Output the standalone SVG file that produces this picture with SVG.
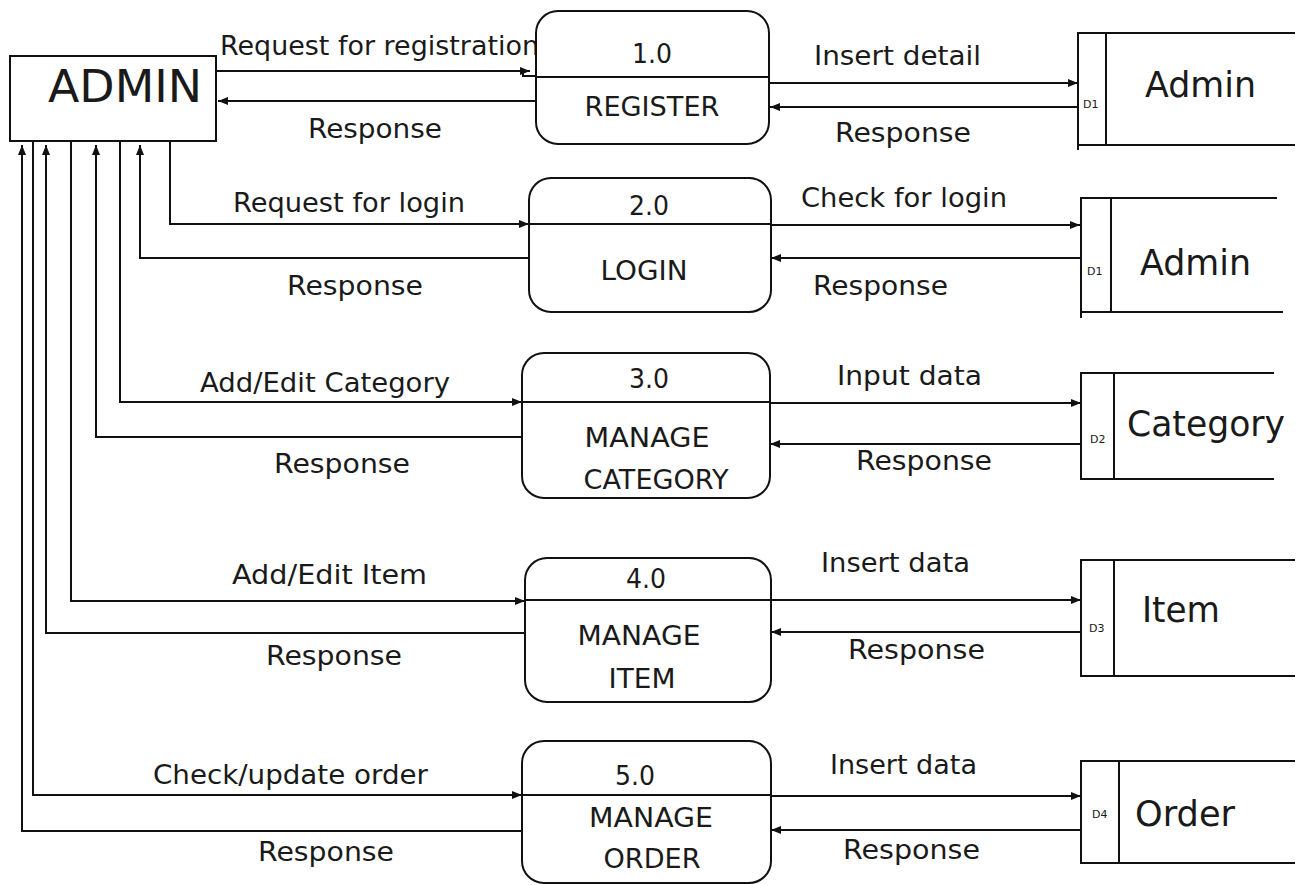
<svg xmlns="http://www.w3.org/2000/svg" width="1305" height="885" viewBox="0 0 1305 885">
<style>
.ln{fill:none;stroke:#111;stroke-width:2}
.box{fill:#fff;stroke:#111;stroke-width:2}
.t{font-family:"DejaVu Sans","Liberation Sans",sans-serif;font-size:26px;fill:#1a1a1a}
.pm{font-family:"DejaVu Sans","Liberation Sans",sans-serif;font-size:26px;fill:#1a1a1a;text-anchor:middle}
.ds{font-family:"DejaVu Sans","Liberation Sans",sans-serif;font-size:36px;fill:#1a1a1a}
.dn{font-family:"DejaVu Sans","Liberation Sans",sans-serif;font-size:11px;fill:#1a1a1a}
</style>
<defs>
<marker id="ah" markerUnits="userSpaceOnUse" markerWidth="10" markerHeight="8" refX="10" refY="4" orient="auto">
<path d="M0,0 L10,4 L0,8 z" fill="#111"/>
</marker>
</defs>
<rect width="1305" height="885" fill="#fff"/>
<g id="connectors">
<path class="ln" d="M216,71 H530" marker-end="url(#ah)"/>
<path class="ln" d="M523,71 V76 H536"/>
<path class="ln" d="M536,101 H218" marker-end="url(#ah)"/>
<path class="ln" d="M170,141 V224 H529" marker-end="url(#ah)"/>
<path class="ln" d="M529,258 H140 V145" marker-end="url(#ah)"/>
<path class="ln" d="M120,141 V402 H522" marker-end="url(#ah)"/>
<path class="ln" d="M522,437 H96 V145" marker-end="url(#ah)"/>
<path class="ln" d="M71,141 V601 H525" marker-end="url(#ah)"/>
<path class="ln" d="M525,633 H46 V145" marker-end="url(#ah)"/>
<path class="ln" d="M33,141 V795 H522" marker-end="url(#ah)"/>
<path class="ln" d="M522,831 H22 V145" marker-end="url(#ah)"/>
<path class="ln" d="M770,83 H1078" marker-end="url(#ah)"/>
<path class="ln" d="M1078,107 H770" marker-end="url(#ah)"/>
<path class="ln" d="M771,225 H1080" marker-end="url(#ah)"/>
<path class="ln" d="M1080,258 H771" marker-end="url(#ah)"/>
<path class="ln" d="M770,403 H1081" marker-end="url(#ah)"/>
<path class="ln" d="M1081,444 H770" marker-end="url(#ah)"/>
<path class="ln" d="M771,600 H1081" marker-end="url(#ah)"/>
<path class="ln" d="M1081,632 H771" marker-end="url(#ah)"/>
<path class="ln" d="M771,796 H1081" marker-end="url(#ah)"/>
<path class="ln" d="M1081,830 H771" marker-end="url(#ah)"/>
<text class="t" x="220" y="55" textLength="319" lengthAdjust="spacingAndGlyphs">Request for registration</text>
<text class="t" x="308" y="138" textLength="134" lengthAdjust="spacingAndGlyphs">Response</text>
<text class="t" x="233" y="212" textLength="232" lengthAdjust="spacingAndGlyphs">Request for login</text>
<text class="t" x="287" y="295" textLength="136" lengthAdjust="spacingAndGlyphs">Response</text>
<text class="t" x="200" y="392" textLength="250" lengthAdjust="spacingAndGlyphs">Add/Edit Category</text>
<text class="t" x="274" y="473" textLength="136" lengthAdjust="spacingAndGlyphs">Response</text>
<text class="t" x="232" y="584" textLength="195" lengthAdjust="spacingAndGlyphs">Add/Edit Item</text>
<text class="t" x="266" y="665" textLength="136" lengthAdjust="spacingAndGlyphs">Response</text>
<text class="t" x="153" y="784" textLength="275" lengthAdjust="spacingAndGlyphs">Check/update order</text>
<text class="t" x="258" y="861" textLength="136" lengthAdjust="spacingAndGlyphs">Response</text>
<text class="t" x="814" y="65" textLength="167" lengthAdjust="spacingAndGlyphs">Insert detail</text>
<text class="t" x="835" y="142" textLength="136" lengthAdjust="spacingAndGlyphs">Response</text>
<text class="t" x="801" y="207" textLength="206" lengthAdjust="spacingAndGlyphs">Check for login</text>
<text class="t" x="813" y="295" textLength="135" lengthAdjust="spacingAndGlyphs">Response</text>
<text class="t" x="837" y="385" textLength="145" lengthAdjust="spacingAndGlyphs">Input data</text>
<text class="t" x="856" y="470" textLength="136" lengthAdjust="spacingAndGlyphs">Response</text>
<text class="t" x="821" y="572" textLength="149" lengthAdjust="spacingAndGlyphs">Insert data</text>
<text class="t" x="848" y="659" textLength="137" lengthAdjust="spacingAndGlyphs">Response</text>
<text class="t" x="830" y="774" textLength="147" lengthAdjust="spacingAndGlyphs">Insert data</text>
<text class="t" x="843" y="859" textLength="137" lengthAdjust="spacingAndGlyphs">Response</text>
</g>
<g id="admin">
<rect class="box" x="10" y="56" width="206" height="85"/>
<text x="48" y="102" font-family="DejaVu Sans, Liberation Sans, sans-serif" font-size="45" fill="#1a1a1a" textLength="154" lengthAdjust="spacingAndGlyphs">ADMIN</text>
</g>
<g id="p1">
<rect class="box" x="536" y="11" width="233" height="133" rx="22"/>
<line class="ln" x1="536" y1="77" x2="769" y2="77"/>
<text class="pm" x="652" y="63" textLength="40" lengthAdjust="spacingAndGlyphs">1.0</text>
<text class="pm" x="652" y="116" textLength="135" lengthAdjust="spacingAndGlyphs">REGISTER</text>
</g>
<g id="p2">
<rect class="box" x="529" y="178" width="242" height="134" rx="22"/>
<line class="ln" x1="529" y1="224" x2="771" y2="224"/>
<text class="pm" x="649" y="215" textLength="40" lengthAdjust="spacingAndGlyphs">2.0</text>
<text class="pm" x="644" y="280" textLength="87" lengthAdjust="spacingAndGlyphs">LOGIN</text>
</g>
<g id="p3">
<rect class="box" x="522" y="353" width="248" height="145" rx="22"/>
<line class="ln" x1="522" y1="402" x2="770" y2="402"/>
<text class="pm" x="649" y="388" textLength="40" lengthAdjust="spacingAndGlyphs">3.0</text>
<text class="pm" x="647" y="447" textLength="125" lengthAdjust="spacingAndGlyphs">MANAGE</text>
<text class="pm" x="656" y="489" textLength="145" lengthAdjust="spacingAndGlyphs">CATEGORY</text>
</g>
<g id="p4">
<rect class="box" x="525" y="558" width="246" height="144" rx="22"/>
<line class="ln" x1="525" y1="600" x2="771" y2="600"/>
<text class="pm" x="646" y="588" textLength="40" lengthAdjust="spacingAndGlyphs">4.0</text>
<text class="pm" x="639" y="645" textLength="123" lengthAdjust="spacingAndGlyphs">MANAGE</text>
<text class="pm" x="642" y="688" textLength="67" lengthAdjust="spacingAndGlyphs">ITEM</text>
</g>
<g id="p5">
<rect class="box" x="522" y="741" width="249" height="142" rx="22"/>
<line class="ln" x1="522" y1="795" x2="771" y2="795"/>
<text class="pm" x="635" y="785" textLength="40" lengthAdjust="spacingAndGlyphs">5.0</text>
<text class="pm" x="651" y="827" textLength="124" lengthAdjust="spacingAndGlyphs">MANAGE</text>
<text class="pm" x="652" y="868" textLength="97" lengthAdjust="spacingAndGlyphs">ORDER</text>
</g>
<g id="d1a">
<path class="ln" d="M1295,33 H1078 V150 M1078,145 H1295 M1106,33 V145"/>
<text class="dn" x="1083" y="108">D1</text>
<text class="ds" x="1145" y="97" textLength="111" lengthAdjust="spacingAndGlyphs">Admin</text>
</g>
<g id="d1b">
<path class="ln" d="M1277,198 H1081 V318 M1081,312 H1283 M1111,198 V312"/>
<text class="dn" x="1087" y="275">D1</text>
<text class="ds" x="1140" y="275" textLength="111" lengthAdjust="spacingAndGlyphs">Admin</text>
</g>
<g id="d2">
<path class="ln" d="M1274,373 H1081 V480 M1081,479 H1274 M1114,373 V479"/>
<text class="dn" x="1090" y="443">D2</text>
<text class="ds" x="1127" y="436" textLength="158" lengthAdjust="spacingAndGlyphs">Category</text>
</g>
<g id="d3">
<path class="ln" d="M1295,560 H1081 V677 M1081,676 H1295 M1114,560 V676"/>
<text class="dn" x="1089" y="632">D3</text>
<text class="ds" x="1142" y="622" textLength="78" lengthAdjust="spacingAndGlyphs">Item</text>
</g>
<g id="d4">
<path class="ln" d="M1295,761 H1081 V864 M1081,863 H1295 M1119,761 V863"/>
<text class="dn" x="1092" y="818">D4</text>
<text class="ds" x="1135" y="826" textLength="100" lengthAdjust="spacingAndGlyphs">Order</text>
</g>
</svg>
